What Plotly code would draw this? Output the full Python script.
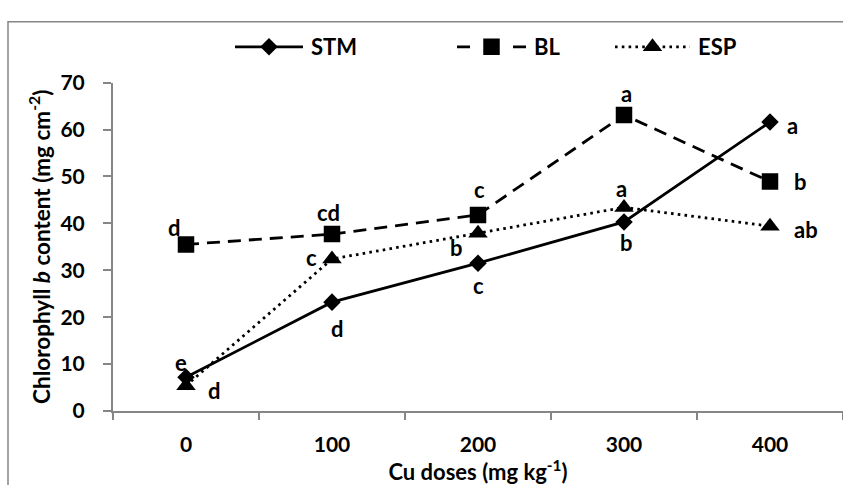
import plotly.graph_objects as go

doses = ["0", "100", "200", "300", "400"]
stm = [7.2, 23.2, 31.5, 40.3, 61.6]
bl = [35.5, 37.7, 41.8, 63.1, 48.9]
esp = [5.4, 32.4, 37.9, 43.4, 39.4]
stm_lab = ["e", "d", "c", "b", "a"]
bl_lab = ["d", "cd", "c", "a", "b"]
esp_lab = ["d", "c", "b", "a", "ab"]
y_ticks = [0, 10, 20, 30, 40, 50, 60, 70]

W, H = 843, 485
ML, MR, MT, MB = 113, 0, 0, 74
PH = H - MT - MB  # 411
plot_top = 71
FONT = "Lato"
AX = "#868686"
LW = 2.8

fig = go.Figure()

series = [
    ("STM", stm, "diamond", 13.5, "solid"),
    ("BL", bl, "square", 16.5, "13px,8px"),
    ("ESP", esp, "triangle-up", 17, "2.6px,4.2px"),
]
for name, vals, sym, sz, dash in series:
    fig.add_trace(go.Scatter(
        x=doses, y=vals, mode="lines+markers", name=name,
        line=dict(color="black", width=LW, dash=dash),
        marker=dict(symbol=sym, size=sz, color="black"),
        showlegend=False, xaxis="x", yaxis="y"))

# custom legend (overlay axis in pixel coordinates)
leg = [("STM", 235, 303, "diamond", 13.5, "solid"),
       ("BL", 457, 526, "square", 16.5, "13px,43px"),
       ("ESP", 615, 690, "triangle-up", 17, "2.6px,4.2px")]
LEG_Y = 34
for name, x0, x1, sym, sz, dash in leg:
    fig.add_trace(go.Scatter(x=[x0, x1], y=[LEG_Y, LEG_Y], mode="lines",
                             line=dict(color="black", width=LW, dash=dash),
                             xaxis="x2", yaxis="y2", showlegend=False, hoverinfo="skip"))
    fig.add_trace(go.Scatter(x=[(x0 + x1) / 2], y=[LEG_Y], mode="markers",
                             marker=dict(symbol=sym, size=sz, color="black"),
                             xaxis="x2", yaxis="y2", showlegend=False, hoverinfo="skip"))
    fig.add_annotation(x=x1 + 6, y=LEG_Y, xref="x2", yref="y2", text=name, showarrow=False,
                       xanchor="left", yanchor="middle",
                       font=dict(family=FONT, size=22, color="black", weight="bold"))

# point labels
offsets = {
    "STM": [(-5, 15), (5, -26), (0, -22), (2, -21), (22, -4)],
    "BL": [(-12, 17), (-4, 22), (1, 25), (2, 21), (30, 0)],
    "ESP": [(28, -5), (-21, 1), (-22, -14), (-3, 19), (36, -3)],
}
for (name, vals, *_), labs in zip(series, [stm_lab, bl_lab, esp_lab]):
    for i, (yi, lab) in enumerate(zip(vals, labs)):
        dx, dy = offsets[name][i]
        fig.add_annotation(x=i, y=yi, xref="x", yref="y", text=lab, showarrow=False,
                           xshift=dx, yshift=dy,
                           font=dict(family=FONT, size=22, color="black", weight="bold"))

# frame
fig.add_shape(type="rect", xref="paper", yref="paper",
              x0=(8 - ML) / (W - ML), x1=1.02, y0=-0.5, y1=(PH - 8) / PH,
              line=dict(color=AX, width=1.5), fillcolor="rgba(0,0,0,0)", layer="below")

fig.update_layout(
    width=W, height=H, margin=dict(l=ML, r=MR, t=MT, b=MB),
    plot_bgcolor="white", paper_bgcolor="white",
    font=dict(family=FONT, size=16, color="black"),
    xaxis=dict(type="category", range=[-0.5, 4.5], tickson="boundaries",
               ticks="outside", ticklen=7, tickcolor=AX, tickwidth=1.5,
               showline=True, linecolor=AX, linewidth=2, showgrid=False, zeroline=False,
               tickfont=dict(family=FONT, size=21, color="black", weight="bold"),
               ticklabelstandoff=14,
               title=dict(text="Cu doses (mg kg<sup>-1</sup>)", standoff=0,
                          font=dict(family=FONT, size=22, color="black", weight="bold"))),
    yaxis=dict(range=[0, 70], tickvals=y_ticks, domain=[0, (PH - plot_top) / PH],
               ticks="outside", ticklen=8, tickcolor=AX, tickwidth=1.5,
               showline=True, linecolor=AX, linewidth=2, showgrid=False, zeroline=False,
               tickfont=dict(family=FONT, size=21, color="black", weight="bold"),
               ticklabelstandoff=14,
               title=dict(text="Chlorophyll <i>b</i> content (mg cm<sup>-2</sup>)", standoff=4,
                          font=dict(family=FONT, size=22.5, color="black", weight="bold"))),
    xaxis2=dict(range=[ML, W], domain=[0, 1], anchor="y2", visible=False, fixedrange=True),
    yaxis2=dict(range=[plot_top, 0], domain=[(PH - plot_top) / PH, 1], anchor="x2",
                visible=False, fixedrange=True),
)

fig.write_html("out.html")
